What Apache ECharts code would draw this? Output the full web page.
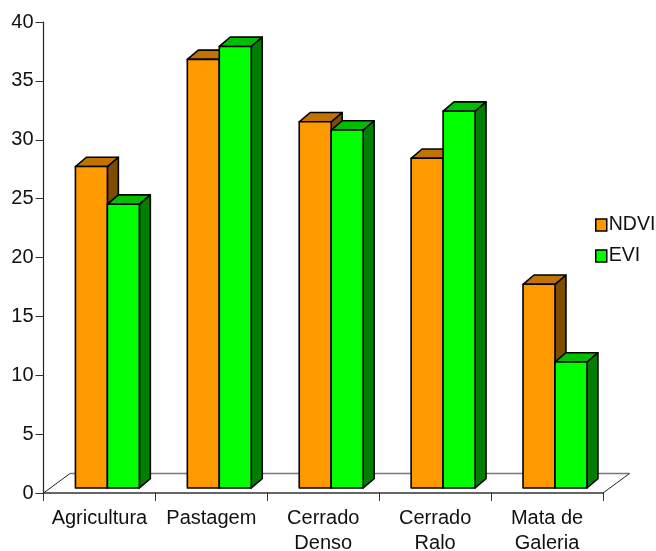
<!DOCTYPE html>
<html>
<head>
<meta charset="utf-8">
<style>html,body{margin:0;padding:0;background:#fff}#chart{width:656px;height:551px}</style>
<script src="https://cdn.jsdelivr.net/npm/echarts@6/dist/echarts.min.js"></script>
</head>
<body>
<div id="chart"></div>
<script>
// Land-cover classes and the index value for each one
const categories = ['Agricultura', 'Pastagem', 'Cerrado\nDenso', 'Cerrado\nRalo', 'Mata de\nGaleria'];
const ndvi = [27.3, 36.4, 31.1, 28.0, 17.3];
const evi = [24.1, 37.5, 30.4, 32.0, 10.7];

const FONT = '"Liberation Sans", Arial, sans-serif';
const INK = '#111';

// Pseudo-3D proportions, relative to one category band
const BAR_RATIO = 0.2857;
const DEPTH_RATIO = 0.098;
const DEPTH_RISE = 9.3;
const BASE_LIFT = 5;
const CENTRE_SHIFT = 0.071;
const FLOOR_DX = 26.5;
const FLOOR_DY = 19.5;

// Extruded bar: front face, lit top and shaded side
function barRenderer(slot, front, top, side) {
  return function (params, api) {
    const band = api.size([1, 0])[0];
    const w = band * BAR_RATIO;
    const d = band * DEPTH_RATIO;
    const centre = api.coord([api.value(0), 0]);
    const head = api.coord([api.value(0), api.value(1)]);
    const x0 = centre[0] + band * CENTRE_SHIFT + slot * w;
    const x1 = x0 + w;
    const yb = centre[1] - BASE_LIFT;
    const yt = head[1] - BASE_LIFT;
    const stroke = { stroke: '#000', lineWidth: 1.6, lineJoin: 'round' };
    return {
      type: 'group',
      children: [
        { type: 'polygon', shape: { points: [[x1, yt], [x1 + d, yt - DEPTH_RISE], [x1 + d, yb - DEPTH_RISE], [x1, yb]] },
          style: Object.assign({ fill: side }, stroke) },
        { type: 'polygon', shape: { points: [[x0, yt], [x0 + d, yt - DEPTH_RISE], [x1 + d, yt - DEPTH_RISE], [x1, yt]] },
          style: Object.assign({ fill: top }, stroke) },
        { type: 'rect', shape: { x: x0, y: yt, width: w, height: yb - yt },
          style: Object.assign({ fill: front }, stroke) }
      ]
    };
  };
}

// Chart floor: two slanted edges and the grey back edge
function floorRenderer(params) {
  const c = params.coordSys;
  const yb = c.y + c.height;
  const xr = c.x + c.width;
  const yBack = yb - FLOOR_DY;
  return {
    type: 'group',
    silent: true,
    children: [
      { type: 'line', shape: { x1: c.x + FLOOR_DX, y1: yBack, x2: xr + FLOOR_DX, y2: yBack },
        style: { stroke: '#777', lineWidth: 1.6 } },
      { type: 'line', shape: { x1: c.x, y1: yb, x2: c.x + FLOOR_DX, y2: yBack },
        style: { stroke: '#222', lineWidth: 1 } },
      { type: 'line', shape: { x1: xr, y1: yb, x2: xr + FLOOR_DX, y2: yBack },
        style: { stroke: '#222', lineWidth: 1 } }
    ]
  };
}

const pairs = vals => vals.map((v, i) => [i, v]);

const chart = echarts.init(document.getElementById('chart'), null, { renderer: 'canvas' });
chart.setOption({
  animation: false,
  backgroundColor: '#fff',
  grid: { left: 43.5, top: 22, width: 559.5, height: 471, containLabel: false, outerBoundsMode: 'none' },
  legend: {
    data: ['NDVI', 'EVI'],
    orient: 'vertical',
    left: 590,
    top: 210,
    itemWidth: 11,
    itemHeight: 12,
    itemGap: 11,
    icon: 'rect',
    itemStyle: { borderColor: '#000', borderWidth: 1.5 },
    textStyle: { fontFamily: FONT, fontSize: 19.5, color: INK, padding: [0, 0, 4, -3] }
  },
  xAxis: {
    type: 'category',
    data: categories,
    boundaryGap: true,
    axisLine: { lineStyle: { color: '#333', width: 1.5 } },
    axisTick: { show: true, alignWithLabel: false, length: 8, lineStyle: { color: '#333', width: 1 } },
    axisLabel: { fontFamily: FONT, fontSize: 20, color: INK, margin: 13, lineHeight: 25, interval: 0 }
  },
  yAxis: {
    type: 'value',
    min: 0,
    max: 40,
    interval: 5,
    splitLine: { show: false },
    axisLine: { show: true, lineStyle: { color: '#222', width: 1.2 } },
    axisTick: { show: true, length: 8, lineStyle: { color: '#333', width: 1 } },
    axisLabel: { fontFamily: FONT, fontSize: 20, color: INK, margin: 10 }
  },
  series: [
    { type: 'custom', name: 'floor', data: [[0, 0]], encode: { x: 0, y: 1 }, renderItem: floorRenderer, z: 1, silent: true },
    { type: 'custom', name: 'NDVI', data: pairs(ndvi), encode: { x: 0, y: 1 }, z: 2,
      itemStyle: { color: '#FF9900' }, renderItem: barRenderer(-1, '#FF9900', '#C07300', '#804D00') },
    { type: 'custom', name: 'EVI', data: pairs(evi), encode: { x: 0, y: 1 }, z: 2,
      itemStyle: { color: '#00FF00' }, renderItem: barRenderer(0, '#00FF00', '#00BF00', '#008000') }
  ]
});
</script>
</body>
</html>
